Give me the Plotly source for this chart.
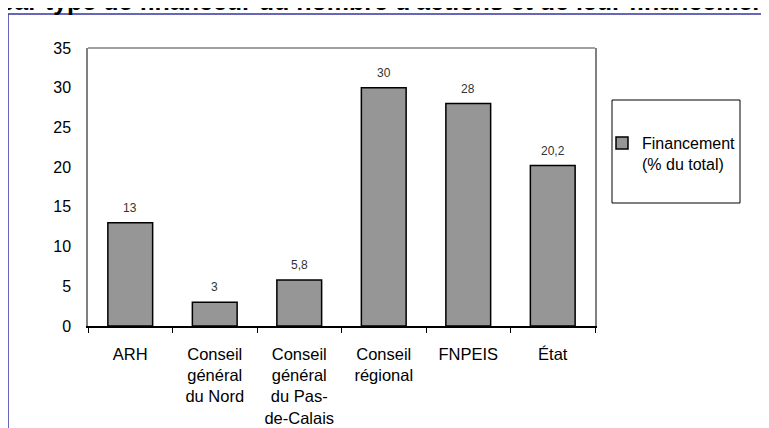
import plotly.graph_objects as go

categories = ["ARH", "Conseil<br>général<br>du Nord", "Conseil<br>général<br>du Pas-<br>de-Calais",
              "Conseil<br>régional", "FNPEIS", "État"]
values = [13, 3, 5.8, 30, 28, 20.2]
value_labels = ["13", "3", "5,8", "30", "28", "20,2"]
series_name = "Financement<br>(% du total)"
y_ticks = [0, 5, 10, 15, 20, 25, 30, 35]
title_text = "par type de financeur du nombre d'actions et de leur financement"

W, H = 769, 428
OFF = 8  # page body margin
# plot area in page pixels
PL, PR, PT, PB = 88, 595, 48, 326
L, T = PL - OFF, PT - OFF
R = W - (PR - OFF)
B = H - (PB - OFF)
PW, PH = PR - PL, PB - PT

def px_x(px):
    return (px - PL) / PW

def px_y(py):
    return (PB - py) / PH

FONT = "Liberation Sans"

fig = go.Figure()
fig.add_trace(go.Bar(
    x=categories, y=values, name=series_name,
    marker=dict(color="#969696", line=dict(color="#000000", width=1.5)),
    showlegend=True,
))

for c, v, t in zip(categories, values, value_labels):
    fig.add_annotation(x=c, y=v, text=t, showarrow=False, yanchor="middle", yshift=15,
                       font=dict(family=FONT, size=12, color="#333333"))

# title (clipped at the top of the picture)
fig.add_annotation(xref="paper", yref="paper", x=px_x(-3), y=px_y(1), xanchor="left", yanchor="middle",
                   text="<b>" + title_text + "</b>", showarrow=False,
                   font=dict(family=FONT, size=25, color="#000000"))

shapes = [
    # outer blue frame
    dict(type="rect", xref="paper", yref="paper", x0=px_x(8), x1=px_x(900), y0=px_y(600), y1=px_y(14),
         line=dict(color="#3434a4", width=1.5), fillcolor="rgba(0,0,0,0)", layer="below"),
    # top border of plot area
    dict(type="line", xref="paper", yref="paper", x0=0, x1=1, y0=1, y1=1,
         line=dict(color="#808080", width=1.5)),
    # legend box
    dict(type="rect", xref="paper", yref="paper", x0=px_x(612), x1=px_x(740), y0=px_y(203), y1=px_y(100),
         line=dict(color="#000000", width=1), fillcolor="rgba(0,0,0,0)"),
]

fig.update_layout(
    width=W, height=H,
    margin=dict(l=L, r=R, t=T, b=B, pad=0, autoexpand=False),
    paper_bgcolor="white", plot_bgcolor="white",
    font=dict(family=FONT, size=16, color="#000000"),
    bargap=0.47,
    shapes=shapes,
    showlegend=True,
    legend=dict(x=px_x(602), y=px_y(126), xanchor="left", yanchor="top",
                bgcolor="rgba(0,0,0,0)", borderwidth=0, valign="top",
                font=dict(family=FONT, size=16, color="#000000")),
    xaxis=dict(automargin=False, showline=True, linecolor="#000000", linewidth=1.5, ticks="outside", ticklen=5,
               tickcolor="#000000", tickson="boundaries", showgrid=False, ticklabelstandoff=12,
               tickfont=dict(family=FONT, size=16.5)),
    yaxis=dict(automargin=False, range=[0, 35], tickvals=y_ticks, showline=True, linecolor="#808080",
               linewidth=1.5, mirror=True, showgrid=False, zeroline=False, ticks="", ticklabelstandoff=12,
               tickfont=dict(family=FONT, size=16)),
)

fig.write_html("out.html")
